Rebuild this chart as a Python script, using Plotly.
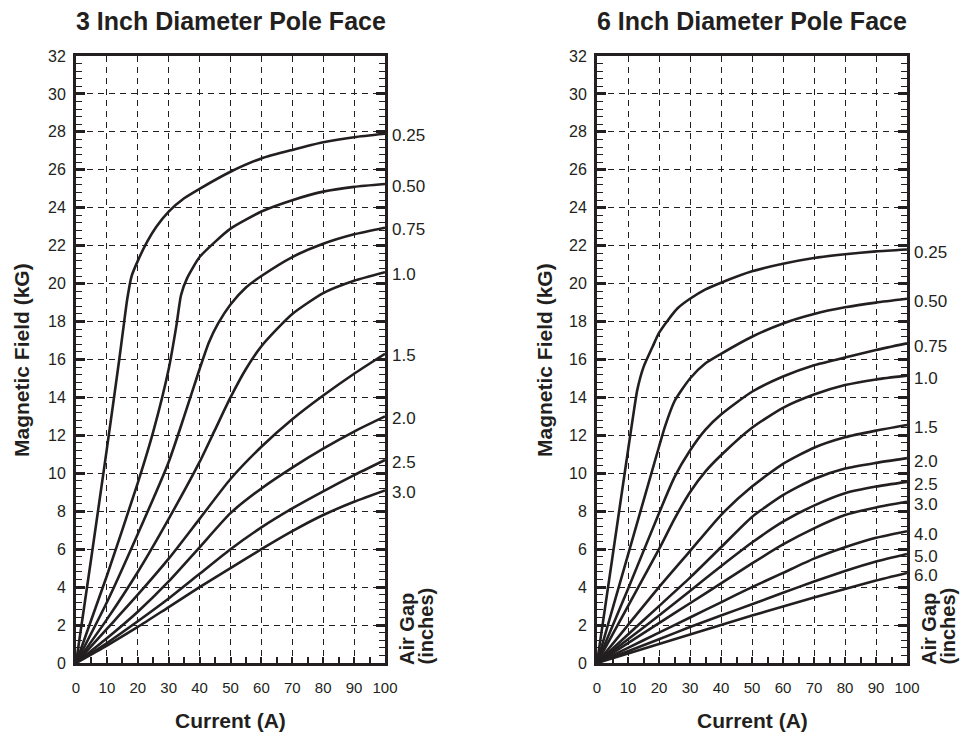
import plotly.graph_objects as go

# ---------------- data: 3 inch diameter pole face ----------------
labels_3in = ["0.25", "0.50", "0.75", "1.0", "1.5", "2.0", "2.5", "3.0"]

x3_025 = [0, 5, 10, 14, 15.6, 16.6, 18, 20, 23, 26, 30, 35, 40, 50, 60, 70, 80, 90, 100]
y3_025 = [0, 5.6, 11.3, 16.0, 18.0, 19.2, 20.4, 21.2, 22.2, 23.0, 23.8, 24.5, 25.0, 25.9, 26.6, 27.05, 27.45, 27.72, 27.9]

x3_050 = [0, 10, 20, 25, 30, 32.5, 34, 36, 40, 45, 50, 60, 70, 80, 90, 100]
y3_050 = [0, 4.6, 9.5, 12.2, 15.5, 17.8, 19.4, 20.3, 21.4, 22.2, 22.9, 23.8, 24.4, 24.85, 25.1, 25.25]

x3_075 = [0, 10, 20, 30, 35, 40, 43, 46, 50, 55, 60, 70, 80, 90, 100]
y3_075 = [0, 3.2, 6.8, 10.6, 13.0, 15.5, 16.9, 17.9, 18.9, 19.8, 20.4, 21.4, 22.1, 22.6, 22.95]

x3_100 = [0, 10, 20, 30, 40, 45, 50, 55, 60, 65, 70, 80, 90, 100]
y3_100 = [0, 2.3, 4.8, 7.6, 10.6, 12.3, 14.0, 15.5, 16.7, 17.6, 18.4, 19.5, 20.15, 20.6]

x3_rest = [0, 10, 20, 30, 40, 50, 60, 70, 80, 90, 100]
y3_150 = [0, 1.8, 3.6, 5.5, 7.6, 9.7, 11.4, 12.85, 14.1, 15.25, 16.3]
y3_200 = [0, 1.3, 2.7, 4.3, 6.1, 7.9, 9.2, 10.3, 11.3, 12.2, 13.0]
y3_250 = [0, 1.05, 2.2, 3.4, 4.7, 6.0, 7.15, 8.15, 9.05, 9.9, 10.7]
y3_300 = [0, 0.92, 1.9, 2.95, 4.0, 5.0, 6.0, 6.95, 7.8, 8.5, 9.1]

# ---------------- data: 6 inch diameter pole face ----------------
labels_6in = ["0.25", "0.50", "0.75", "1.0", "1.5", "2.0", "2.5", "3.0", "4.0", "5.0", "6.0"]

x6_025 = [0, 5, 10, 12, 13, 15, 18, 20, 23, 26, 30, 35, 40, 50, 60, 70, 80, 90, 100]
y6_025 = [0, 5.6, 11.2, 13.4, 14.4, 15.6, 16.7, 17.4, 18.1, 18.7, 19.2, 19.7, 20.05, 20.65, 21.05, 21.35, 21.55, 21.7, 21.8]

x6_050 = [0, 10, 20, 22, 25, 30, 35, 40, 50, 60, 70, 80, 90, 100]
y6_050 = [0, 5.7, 11.4, 12.5, 13.8, 15.0, 15.8, 16.3, 17.2, 17.9, 18.4, 18.75, 19.0, 19.2]

x6_075 = [0, 10, 20, 25, 30, 35, 40, 50, 60, 70, 80, 90, 100]
y6_075 = [0, 3.9, 7.9, 9.8, 11.2, 12.3, 13.1, 14.3, 15.1, 15.7, 16.1, 16.5, 16.85]

x6_100 = [0, 10, 20, 25, 30, 35, 40, 50, 60, 70, 80, 90, 100]
y6_100 = [0, 3.0, 6.0, 7.6, 9.0, 10.1, 10.95, 12.4, 13.45, 14.15, 14.65, 14.95, 15.15]

x6_rest = [0, 10, 20, 30, 40, 50, 60, 70, 80, 90, 100]
y6_150 = [0, 2.0, 4.0, 5.9, 7.8, 9.3, 10.5, 11.35, 11.9, 12.25, 12.55]
y6_200 = [0, 1.5, 3.0, 4.5, 6.1, 7.7, 8.85, 9.7, 10.25, 10.55, 10.8]
y6_250 = [0, 1.25, 2.5, 3.8, 5.1, 6.35, 7.45, 8.3, 8.95, 9.3, 9.55]
y6_300 = [0, 1.05, 2.1, 3.15, 4.2, 5.25, 6.25, 7.1, 7.8, 8.2, 8.5]
y6_400 = [0, 0.8, 1.6, 2.4, 3.2, 4.0, 4.75, 5.5, 6.1, 6.6, 6.95]
y6_500 = [0, 0.62, 1.25, 1.9, 2.5, 3.1, 3.7, 4.3, 4.85, 5.35, 5.75]
y6_600 = [0, 0.5, 1.0, 1.5, 2.0, 2.5, 2.98, 3.45, 3.9, 4.35, 4.75]

series_3in = [(x3_025, y3_025), (x3_050, y3_050), (x3_075, y3_075), (x3_100, y3_100),
              (x3_rest, y3_150), (x3_rest, y3_200), (x3_rest, y3_250), (x3_rest, y3_300)]
series_6in = [(x6_025, y6_025), (x6_050, y6_050), (x6_075, y6_075), (x6_100, y6_100),
              (x6_rest, y6_150), (x6_rest, y6_200), (x6_rest, y6_250), (x6_rest, y6_300),
              (x6_rest, y6_400), (x6_rest, y6_500), (x6_rest, y6_600)]

titles = ["3 Inch Diameter Pole Face", "6 Inch Diameter Pole Face"]
x_ticks = [0, 10, 20, 30, 40, 50, 60, 70, 80, 90, 100]
y_ticks = list(range(0, 33, 2))

INK = "#231f20"
FONT = "Liberation Sans, Arial, sans-serif"

# full-window figure; the page's default body margin is removed by a post script
W, H = 961, 736
def px(x):
    return x / W
def py(y):
    return 1 - y / H

fig = go.Figure()

for (xs, ys) in series_3in:
    fig.add_trace(go.Scatter(x=xs, y=ys, mode="lines", xaxis="x", yaxis="y",
                             line=dict(color=INK, width=2.6, shape="spline", smoothing=0.6),
                             showlegend=False, hoverinfo="skip"))
for (xs, ys) in series_6in:
    fig.add_trace(go.Scatter(x=xs, y=ys, mode="lines", xaxis="x2", yaxis="y2",
                             line=dict(color=INK, width=2.6, shape="spline", smoothing=0.6),
                             showlegend=False, hoverinfo="skip"))

def xaxis_cfg(domain, anchor):
    return dict(domain=domain, anchor=anchor, range=[0, 100], tickvals=x_ticks,
                ticktext=[str(v) for v in x_ticks],
                showgrid=True, gridcolor=INK, gridwidth=1.3, griddash="6px,5px",
                showline=True, linecolor=INK, linewidth=3, mirror=True,
                ticks="inside", ticklen=6, tickwidth=1.5, tickcolor=INK,
                minor=dict(dtick=5, ticks="inside", ticklen=6, tickwidth=1.5, tickcolor=INK, showgrid=False),
                tickfont=dict(family=FONT, size=15, color=INK),
                ticklabelstandoff=9, zeroline=False, fixedrange=True)

def yaxis_cfg(anchor):
    return dict(domain=[py(663), py(56)], anchor=anchor, range=[0, 32], tickvals=y_ticks,
                ticktext=[str(v) for v in y_ticks],
                showgrid=True, gridcolor=INK, gridwidth=1.3, griddash="6px,5px",
                showline=True, linecolor=INK, linewidth=3, mirror="ticks",
                ticks="inside", ticklen=9, tickwidth=3, tickcolor=INK,
                minor=dict(dtick=0.4, tick0=0, ticks="inside", ticklen=6, tickwidth=1.3, tickcolor=INK, showgrid=False),
                tickfont=dict(family=FONT, size=16, color=INK),
                ticklabelstandoff=4, zeroline=False, fixedrange=True)

annotations = []
# titles
for cx, t in zip([230.5, 752], titles):
    annotations.append(dict(x=px(cx), y=py(21), xref="paper", yref="paper", text="<b>" + t + "</b>",
                            xanchor="center", yanchor="middle",
                            showarrow=False, font=dict(family=FONT, size=25, color=INK)))
# x-axis titles
for cx in [230.5, 752]:
    annotations.append(dict(x=px(cx), y=py(720), xref="paper", yref="paper", text="<b>Current (A)</b>",
                            xanchor="center", yanchor="middle",
                            showarrow=False, font=dict(family=FONT, size=21, color=INK)))
# y-axis titles
for cx in [22, 545]:
    annotations.append(dict(x=px(cx), y=py(360), xref="paper", yref="paper", text="<b>Magnetic Field (kG)</b>",
                            xanchor="center", yanchor="middle",
                            textangle=-90, showarrow=False, font=dict(family=FONT, size=21, color=INK)))
# air gap labels (two rotated lines)
for cx in [385, 907]:
    annotations.append(dict(x=px(cx + 22), y=py(667), xref="paper", yref="paper", text="<b>Air Gap</b>",
                            xanchor="center", yanchor="bottom", textangle=-90, showarrow=False,
                            font=dict(family=FONT, size=20, color=INK)))
    annotations.append(dict(x=px(cx + 40), y=py(667), xref="paper", yref="paper", text="<b>(inches)</b>",
                            xanchor="center", yanchor="bottom", textangle=-90, showarrow=False,
                            font=dict(family=FONT, size=20, color=INK)))
# curve labels at curve ends
for lab, (xs, ys) in zip(labels_3in, series_3in):
    annotations.append(dict(x=xs[-1], y=ys[-1], xref="x", yref="y", text=lab, showarrow=False,
                            xanchor="left", yanchor="middle", xshift=5, yshift=-2,
                            font=dict(family=FONT, size=17, color=INK)))
for lab, (xs, ys) in zip(labels_6in, series_6in):
    annotations.append(dict(x=xs[-1], y=ys[-1], xref="x2", yref="y2", text=lab, showarrow=False,
                            xanchor="left", yanchor="middle", xshift=5, yshift=-3,
                            font=dict(family=FONT, size=17, color=INK)))

fig.update_layout(
    width=W, height=H, margin=dict(l=0, r=0, t=0, b=0, autoexpand=False),
    paper_bgcolor="white", plot_bgcolor="white", showlegend=False,
    xaxis=xaxis_cfg([px(76), px(385)], "y"),
    yaxis=yaxis_cfg("x"),
    xaxis2=xaxis_cfg([px(597), px(907)], "y2"),
    yaxis2=yaxis_cfg("x2"),
    annotations=annotations,
    font=dict(family=FONT, color=INK),
)

fig.write_html("out.html",
               config={"displayModeBar": False},
               post_script="document.body.style.margin='0px';document.body.style.overflow='hidden';")
